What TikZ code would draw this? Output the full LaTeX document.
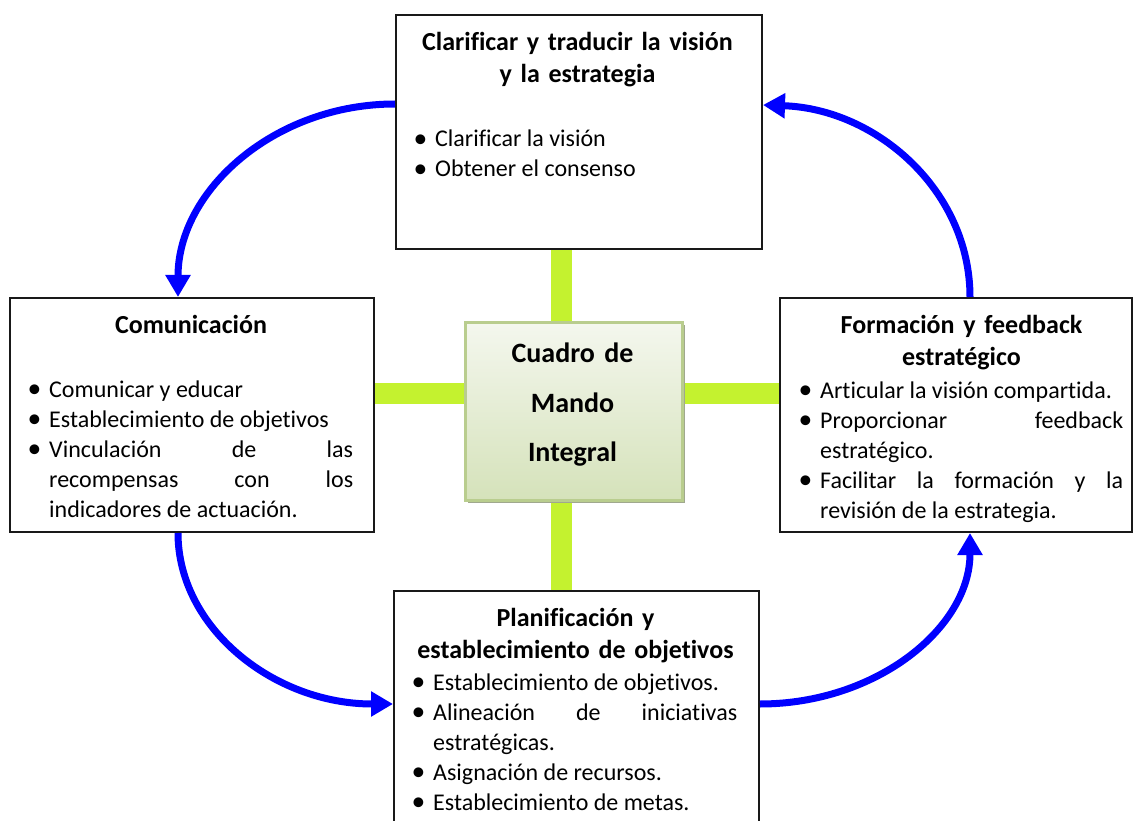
\documentclass[tikz,border=0pt]{standalone}
\usepackage{fontspec}
\setmainfont{Carlito}[Ligatures=CommonOff]
\usetikzlibrary{arrows.meta,shadows,backgrounds}

\definecolor{arrowblue}{HTML}{0000FF}
\definecolor{barlime}{HTML}{C4F22F}
\definecolor{cmitop}{HTML}{F4F7EE}
\definecolor{cmibot}{HTML}{D5E2BA}
\definecolor{cmiedge}{HTML}{B9CD8E}
\definecolor{cmishadow}{HTML}{A0A88E}

% loose justification without complaints
\tolerance=10000
\hbadness=10000

% bullet item with hanging indent (one paragraph per item)
\newcommand{\bul}{\hspace*{-3.5pt}\raisebox{-0.5pt}{\scalebox{1.15}{•}}}
\newcommand{\itm}[1]{\hangindent=18pt\hangafter=1\makebox[18pt][l]{\bul}#1\par}

\begin{document}
\begin{tikzpicture}[x=1pt,y=-1pt,
  box/.style={draw=black!90, line width=2pt, fill=white, inner sep=0pt,
    anchor=north west, rectangle},
  ttl/.style={font=\bfseries\fontsize{26}{32}\selectfont, align=center,
    anchor=base, inner sep=0pt, text width=360pt},
  lst/.style={font=\fontsize{24}{30}\selectfont,
    align=justify, anchor=base west, inner sep=0pt, text width=#1},
  flow/.style={draw=arrowblue, line width=7pt,
    -{Triangle[width=24pt,length=22pt]}},
  bar/.style={draw=barlime, line width=21pt},
]
\useasboundingbox (0,0) rectangle (1133,821);
\clip (0,0) rectangle (1133,821);

% the four boxes
\node[box, minimum width=366pt, minimum height=234pt] (tb) at (395,14) {};
\node[box, minimum width=364pt, minimum height=234pt] (lb) at (9,297) {};
\node[box, minimum width=352pt, minimum height=234pt] (rb) at (779,297) {};
\node[box, minimum width=365pt, minimum height=250pt] (bb) at (393,590) {};

% central box
\node[draw=cmiedge, line width=2.5pt, top color=cmitop, bottom color=cmibot,
  minimum width=217pt, minimum height=178pt, anchor=north west, inner sep=0pt,
  drop shadow={shadow xshift=3pt, shadow yshift=-3pt, fill=cmishadow, opacity=1}]
  (cmi) at (464,321) {};
\node[font=\bfseries\fontsize{28}{50}\selectfont, align=center, anchor=base,
  inner sep=0pt, text width=200pt] (cmit) at (572.5,362)
  {Cuadro de\\Mando\\Integral};

% lime bars linking the centre to the boxes
\coordinate (vx) at (561.5,0);
\coordinate (hy) at (0,393);
\begin{scope}[on background layer]
  \draw[bar] (vx |- tb.south) -- (vx |- cmi.north);
  \draw[bar] (vx |- cmi.south) -- (vx |- bb.north);
  \draw[bar] (lb.east |- hy) -- (cmi.west |- hy);
  \draw[bar] (cmi.east |- hy) -- (rb.west |- hy);
\end{scope}

% titles
\node[ttl] (tbt) at (577.5,51) {Clarificar y traducir la visión\\y la estrategia};
\node[ttl] (lbt) at (191,333) {Comunicación};
\node[ttl] (rbt) at (961.5,334) {Formación y feedback\\estratégico};
\node[ttl] (bbt) at (575.5,626) {Planificación y\\establecimiento de objetivos};

% bullet lists
\node[lst=328pt] (tbl) at (417,147)
  {\itm{Clarificar la visión}\itm{Obtener el consenso}};
\node[lst=322pt] (lbl) at (31,397)
  {\itm{Comunicar y educar}\itm{Establecimiento de objetivos}%
   \itm{Vinculación de las\linebreak recompensas con los\linebreak indicadores de actuación.}};
\node[lst=321pt] (rbl) at (802,398)
  {\itm{Articular la visión compartida.}%
   \itm{Proporcionar feedback\linebreak estratégico.}%
   \itm{Facilitar la formación y la\linebreak revisión de la estrategia.}};
\node[lst=322pt] (bbl) at (415,690)
  {\itm{Establecimiento de objetivos.}%
   \itm{Alineación de iniciativas\linebreak estratégicas.}%
   \itm{Asignación de recursos.}\itm{Establecimiento de metas.}};

% cycle arrows
\draw[flow] ([yshift=28pt]tb.west) .. controls +(-120,0) and +(0,-107) .. ([xshift=-14pt]lb.north);
\draw[flow] ([xshift=-14pt]lb.south) .. controls +(0,95) and +(-119,0) .. ([yshift=-114pt]bb.north west);
\draw[flow] ([yshift=-114pt]bb.north east) .. controls +(116,0) and +(0,95) .. ([xshift=14pt]rb.south);
\draw[flow] ([xshift=14pt]rb.north) .. controls +(0,-106) and +(114,4) .. ([yshift=27pt]tb.east);
\end{tikzpicture}
\end{document}
